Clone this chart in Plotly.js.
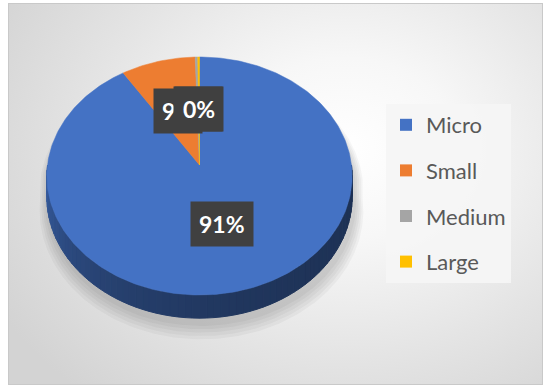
<!DOCTYPE html>
<html><head><meta charset="utf-8">
<script src="https://cdn.plot.ly/plotly-3.0.1.min.js"></script>
<style>
html,body{margin:0;padding:0;background:#fff;width:543px;height:385px;overflow:hidden;}
#bg{position:absolute;left:8px;top:3px;width:533px;height:380px;border:1px solid #c9c9c9;
background:radial-gradient(ellipse 75% 85% at 63% 38%, #ffffff 0%, #f7f7f7 28%, #e4e4e4 65%, #d3d3d3 100%);}
#chart{position:absolute;left:0;top:0;width:543px;height:385px;}
</style></head><body>
<div id="bg"></div><div id="chart"></div>
<script>
// ---- data ----
const categories = ['Micro', 'Small', 'Medium', 'Large'];
const values = [90.9, 8.6, 0.3, 0.2];
const sliceColors = ['#4472c4', '#ed7d31', '#a5a5a5', '#ffc000'];

// ---- 3D pie geometry (style) ----
const CX = 199.5, CY = 165, RX = 152, RY = 118, K = -0.0924, DEPTH = 21;
function proj(phi, r, drop) {
  const u = Math.sin(phi) * r, v = -Math.cos(phi) * r;
  const d = 1 + K * v;
  return [CX + RX * u / d, CY + RY * v / d + (drop || 0) / d];
}
const total = values.reduce((a, b) => a + b, 0);
const starts = [], ends = [];
let acc = 0;
values.forEach(v => { starts.push(acc / total); acc += v; ends.push(acc / total); });
function sliceAt(frac) { for (let i = 0; i < values.length; i++) if (frac < ends[i]) return i; return values.length - 1; }
function hexToRgb(h) { return [1, 3, 5].map(i => parseInt(h.substr(i, 2), 16)); }
function shade(hex, f) { const c = hexToRgb(hex).map(x => Math.round(x * f)); return 'rgb(' + c.join(',') + ')'; }

const traces = [];
const TWO_PI = 2 * Math.PI;

// shadow
for (let i = 5; i >= 1; i--) {
  const xs = [], ys = [];
  const g = 1 + i * 0.012;
  for (let s = 0; s <= 180; s++) {
    const phi = Math.PI / 2 + Math.PI * s / 180;
    const p = proj(phi, g, DEPTH + 4);
    xs.push(p[0] + 2); ys.push(p[1] + i * 1.6);
  }
  for (let s = 0; s <= 180; s++) {
    const phi = 3 * Math.PI / 2 + Math.PI * s / 180;
    const p = proj(phi, g, 0);
    xs.push(p[0] + 2); ys.push(p[1] + 14);
  }
  traces.push({x: xs, y: ys, mode: 'lines', fill: 'toself', fillcolor: 'rgba(0,0,0,0.035)',
    line: {width: 0}, hoverinfo: 'skip', showlegend: false});
}

// side (front half)
const NSEG = 72;
for (let s = 0; s < NSEG; s++) {
  const p1 = Math.PI / 2 + Math.PI * s / NSEG, p2 = Math.PI / 2 + Math.PI * (s + 1) / NSEG;
  const mid = (p1 + p2) / 2;
  const idx = sliceAt(mid / TWO_PI);
  const t = (mid - Math.PI / 2) / Math.PI;
  const f = 0.43 + 0.05 * t + 0.34 * Math.pow(t, 3);
  const col = shade(sliceColors[idx], f);
  const a = proj(p1, 1, 0), b = proj(p2, 1, 0), c = proj(p2, 1, DEPTH), d = proj(p1, 1, DEPTH);
  traces.push({x: [a[0], b[0], c[0], d[0], a[0]], y: [a[1], b[1], c[1], d[1], a[1]],
    mode: 'lines', fill: 'toself', fillcolor: col, line: {width: 1, color: col},
    hoverinfo: 'skip', showlegend: false});
}

// top slices
values.forEach((v, i) => {
  const a0 = starts[i] * TWO_PI, a1 = ends[i] * TWO_PI;
  const n = Math.max(2, Math.ceil((a1 - a0) / TWO_PI * 360));
  const xs = [CX], ys = [CY];
  for (let s = 0; s <= n; s++) {
    const p = proj(a0 + (a1 - a0) * s / n, 1, 0);
    xs.push(p[0]); ys.push(p[1]);
  }
  xs.push(CX); ys.push(CY);
  traces.push({x: xs, y: ys, mode: 'lines', fill: 'toself', fillcolor: sliceColors[i],
    line: {width: 0.5, color: sliceColors[i]}, hoverinfo: 'skip', showlegend: false});
});

// legend entries
categories.forEach((c, i) => {
  traces.push({x: [null], y: [null], mode: 'markers', name: c, legendgroup: c,
    marker: {symbol: 'square', size: 13, color: sliceColors[i]}, showlegend: true});
});

// data labels
const annotations = values.map((v, i) => {
  const midPhi = (starts[i] + ends[i]) / 2 * TWO_PI;
  const p = proj(midPhi, 0.5, 0);
  return {x: p[0], y: p[1], xref: 'x', yref: 'y', showarrow: false,
    text: Math.round(v / total * 100) + '%',
    font: {family: 'Lato, sans-serif', size: 23, color: '#ffffff', weight: 'bold'},
    bgcolor: '#404040', borderpad: 8};
});

const layout = {
  width: 543, height: 385,
  margin: {l: 0, r: 0, t: 0, b: 0, pad: 0},
  paper_bgcolor: 'rgba(0,0,0,0)', plot_bgcolor: 'rgba(0,0,0,0)',
  xaxis: {range: [0, 543], visible: false, fixedrange: true},
  yaxis: {range: [385, 0], visible: false, fixedrange: true},
  showlegend: true,
  legend: {x: 386 / 543, y: 1 - 104 / 385, xanchor: 'left', yanchor: 'top',
    bgcolor: 'rgba(245,245,245,0.92)', borderwidth: 0,
    font: {family: 'Lato, sans-serif', size: 22, color: '#595959'},
    tracegroupgap: 14, itemsizing: 'constant', traceorder: 'grouped'},
  annotations: annotations
};
Plotly.newPlot('chart', traces, layout, {staticPlot: true, displayModeBar: false});
</script>
</body></html>
